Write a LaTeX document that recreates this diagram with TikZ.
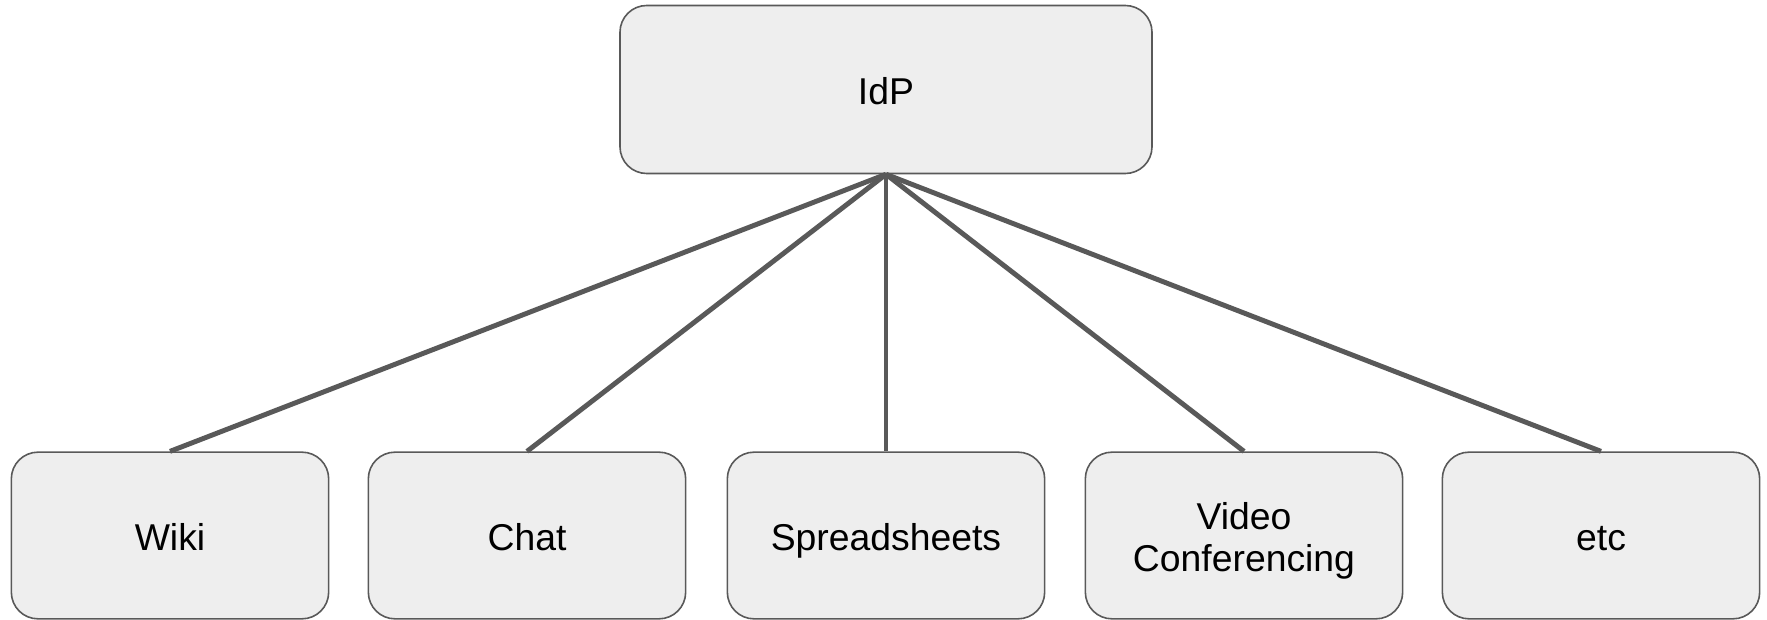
\documentclass[tikz,border=0pt]{standalone}
\usepackage{fontspec}
\setmainfont{Liberation Sans}
\definecolor{boxfill}{HTML}{EEEEEE}
\definecolor{edge}{HTML}{595959}
\newcommand{\lowtext}[1]{\raisebox{-4.8pt}[\height][\depth]{\setlength{\tabcolsep}{0pt}\begin{tabular}{c}#1\end{tabular}}}
\begin{document}
\begin{tikzpicture}[x=0.75pt,y=-0.75pt,
  appbox/.style={draw=edge, fill=boxfill, line width=1.2pt, rounded corners=20pt,
    minimum width=238pt, minimum height=125pt, align=center,
    font=\fontsize{28}{31.5}\selectfont, inner sep=0pt},
  link/.style={draw=edge, line width=3.7pt}]
\useasboundingbox (0,0) rectangle (1767,620);
\node[appbox, minimum width=399pt, minimum height=126pt] (idp) at (886,89.5) {\lowtext{IdP}};
\node[appbox] (wiki) at (170,535.5) {\lowtext{Wiki}};
\node[appbox] (chat) at (527,535.5) {\lowtext{Chat}};
\node[appbox] (sheets) at (886,535.5) {\lowtext{Spreadsheets}};
\node[appbox] (video) at (1244,535.5) {\lowtext{Video\\Conferencing}};
\node[appbox] (etc) at (1601,535.5) {\lowtext{etc}};
\foreach \t in {wiki,chat,sheets,video,etc}
  \draw[link] (idp.south) -- (\t.north);
\end{tikzpicture}
\end{document}
